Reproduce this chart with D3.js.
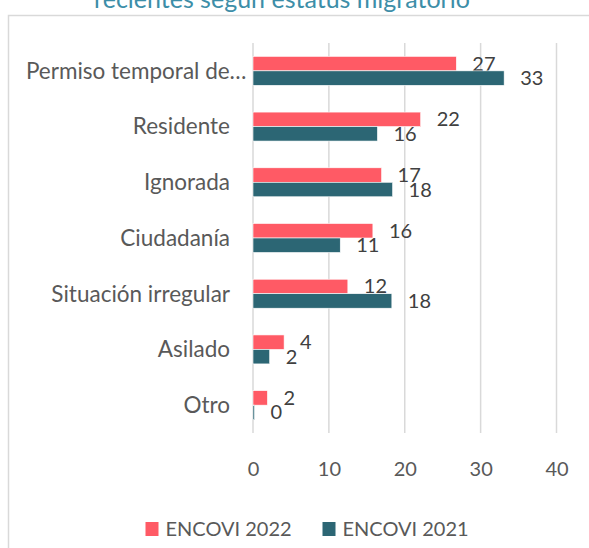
<!DOCTYPE html>
<html>
<head>
<meta charset="utf-8">
<script src="https://cdn.jsdelivr.net/npm/d3@7/dist/d3.min.js"></script>
<style>
  html, body { margin: 0; padding: 0; background: #ffffff; }
  svg { display: block; font-family: Lato, "Open Sans", sans-serif; }
</style>
</head>
<body>
<svg id="chart" width="589" height="548"></svg>
<script>
const categories = ["Permiso temporal de…", "Residente", "Ignorada", "Ciudadanía", "Situación irregular", "Asilado", "Otro"];
const seriesNames = ["ENCOVI 2022", "ENCOVI 2021"];
const encovi2022 = [27, 22, 17, 16, 12, 4, 2];
const encovi2021 = [33, 16, 18, 11, 18, 2, 0];
// bar lengths (labels show rounded values)
const encovi2022Bars = [26.8, 22.1, 16.95, 15.8, 12.5, 4.1, 1.9];
const encovi2021Bars = [33.1, 16.4, 18.4, 11.5, 18.3, 2.2, 0.2];
const xTicks = [0, 10, 20, 30, 40];
const titleText = "recientes según estatus migratorio";

const colors = ["#FF5A65", "#2C6674"];
const svg = d3.select("#chart");

// frame
svg.append("rect")
  .attr("x", 8.5).attr("y", 15.5).attr("width", 600).attr("height", 560)
  .attr("fill", "none").attr("stroke", "#d9d9d9").attr("stroke-width", 1.5);

// title (partially cut off at top)
svg.append("text")
  .attr("x", 282).attr("y", 7.5)
  .attr("text-anchor", "middle")
  .attr("font-size", 25)
  .attr("fill", "#3D8EA8")
  .text(titleText);

const x = d3.scaleLinear().domain([0, 40]).range([253, 556.5]);
const y = d3.scaleBand().domain(categories).range([43, 433]).paddingInner(0.48).paddingOuter(0.24);
const ySub = d3.scaleBand().domain(seriesNames).range([0, y.bandwidth()]);

// gridlines
svg.append("g").selectAll("line").data(xTicks).join("line")
  .attr("x1", d => x(d)).attr("x2", d => x(d))
  .attr("y1", 43).attr("y2", 433)
  .attr("stroke", "#d9d9d9").attr("stroke-width", 1.5);

// tick labels
const xAxis = d3.axisBottom(x).tickValues(xTicks).tickSize(0).tickPadding(0);
const gx = svg.append("g").attr("transform", "translate(0,469)").call(xAxis);
gx.select(".domain").remove();
gx.selectAll("text")
  .attr("font-family", "Lato, 'Open Sans', sans-serif")
  .attr("font-size", 20).attr("fill", "#595959")
  .attr("dy", "0.35em").attr("y", 0);

// category labels
svg.append("g").selectAll("text").data(categories).join("text")
  .attr("x", d => d.endsWith("…") ? 246.5 : 230)
  .attr("y", d => y(d) + y.bandwidth() / 2)
  .attr("dy", "0.35em")
  .attr("text-anchor", "end")
  .attr("font-size", 22.5)
  .attr("fill", "#595959")
  .text(d => d);

const series = [
  { name: seriesNames[0], bars: encovi2022Bars, labels: encovi2022, color: colors[0] },
  { name: seriesNames[1], bars: encovi2021Bars, labels: encovi2021, color: colors[1] }
];

series.forEach(s => {
  const g = svg.append("g");
  g.selectAll("rect").data(categories).join("rect")
    .attr("x", x(0))
    .attr("y", (d) => y(d) + ySub(s.name))
    .attr("width", (d, i) => x(s.bars[i]) - x(0))
    .attr("height", ySub.bandwidth())
    .attr("fill", s.color)
    .attr("stroke", "#ffffff").attr("stroke-width", 0.6);
  g.selectAll("text").data(categories).join("text")
    .attr("x", (d, i) => x(s.bars[i]) + 16)
    .attr("y", (d) => y(d) + ySub(s.name) + ySub.bandwidth() / 2)
    .attr("dy", "0.35em")
    .attr("font-size", 20)
    .attr("fill", "#404040")
    .text((d, i) => s.labels[i]);
});

// legend
const legendX = [145.5, 322.5];
const lg = svg.append("g");
series.forEach((s, i) => {
  lg.append("rect").attr("x", legendX[i]).attr("y", 522).attr("width", 13).attr("height", 14).attr("fill", s.color);
  lg.append("text").attr("x", legendX[i] + 20).attr("y", 529).attr("dy", "0.35em")
    .attr("font-size", 20).attr("fill", "#595959").text(s.name);
});
</script>
</body>
</html>
